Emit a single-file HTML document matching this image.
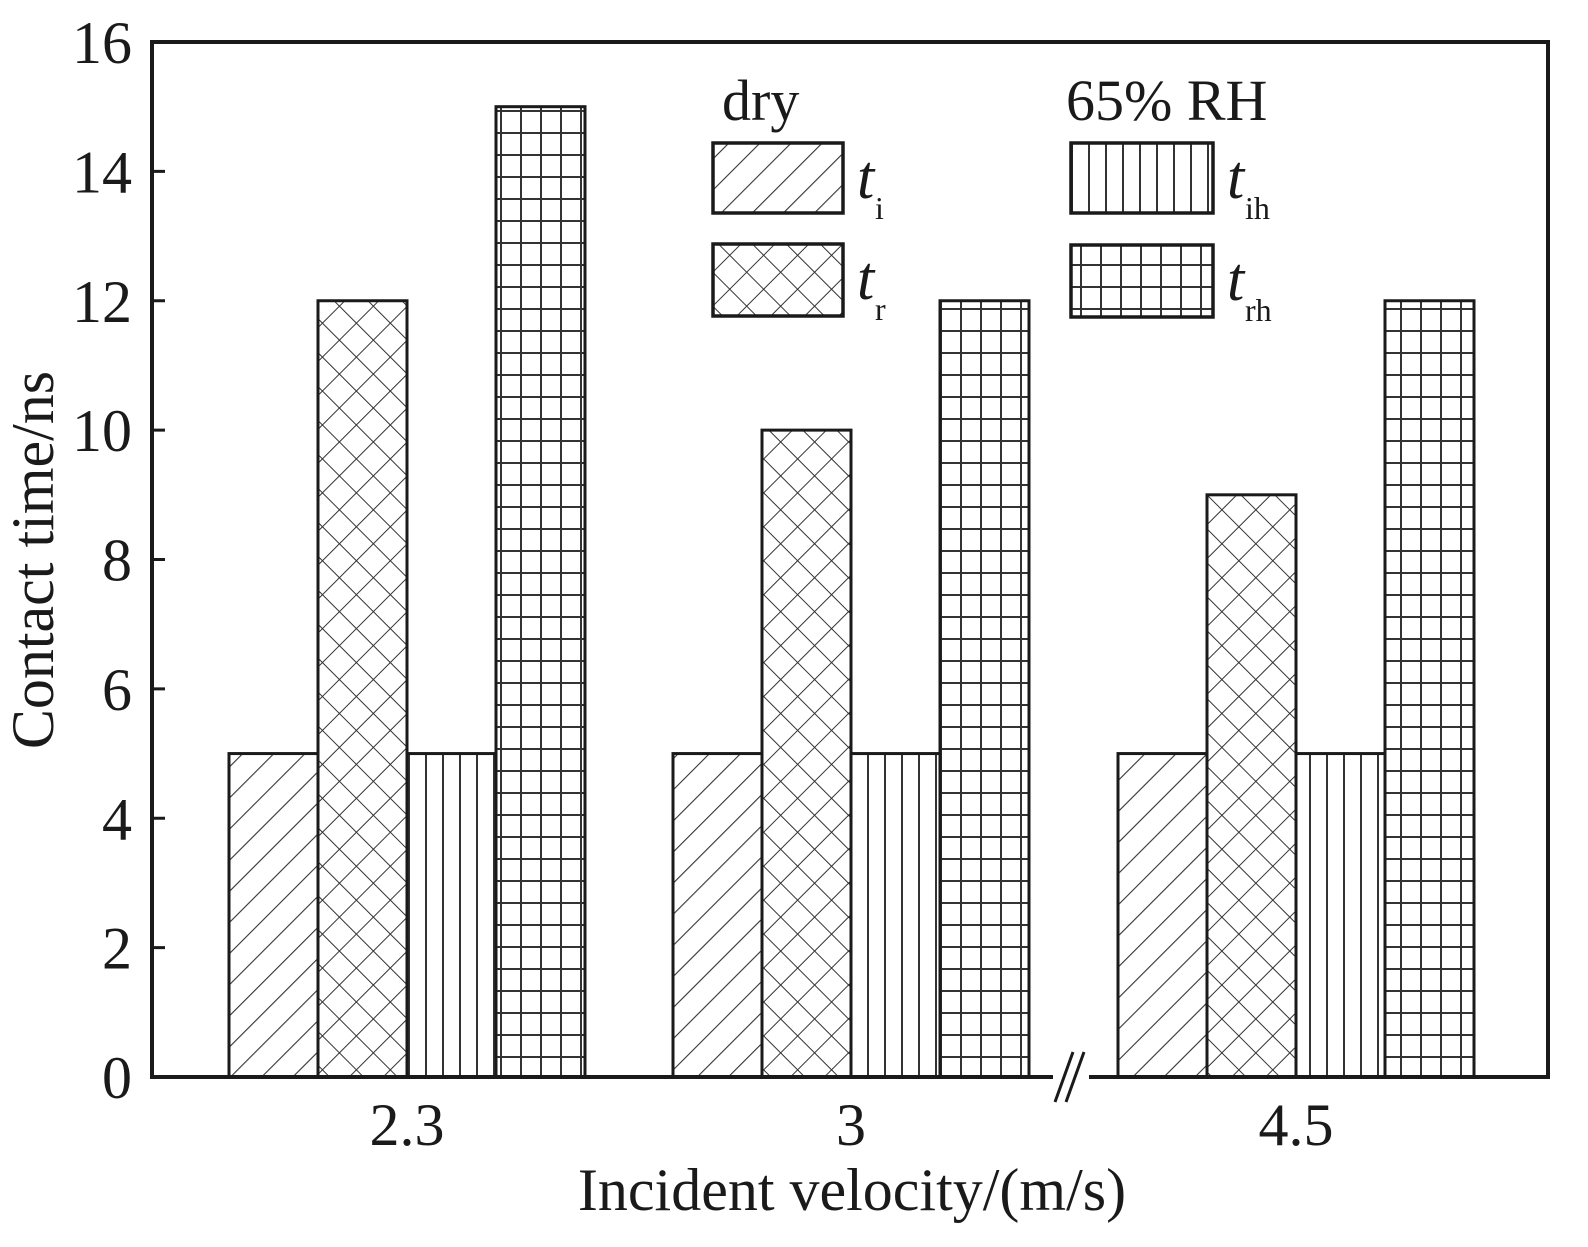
<!DOCTYPE html>
<html><head><meta charset="utf-8"><style>
body{margin:0;background:#fff}
text{font-family:"Liberation Serif",serif;fill:#1a1a1a}
</style></head><body>
<svg id="chart" width="1588" height="1242" viewBox="0 0 1588 1242" xmlns="http://www.w3.org/2000/svg">
<defs>
<pattern id="pDiag" patternUnits="userSpaceOnUse" width="22" height="22" patternTransform="rotate(45)"><line x1="0" y1="0" x2="0" y2="22" stroke="#333" stroke-width="2.2"/></pattern>
<pattern id="pCross" patternUnits="userSpaceOnUse" width="24" height="24" patternTransform="rotate(45)"><line x1="0" y1="0" x2="0" y2="24" stroke="#333" stroke-width="2"/><line x1="0" y1="0" x2="24" y2="0" stroke="#333" stroke-width="2"/></pattern>
<pattern id="pVert" patternUnits="userSpaceOnUse" width="17" height="17"><line x1="1" y1="0" x2="1" y2="17" stroke="#333" stroke-width="2"/></pattern>
<pattern id="pGrid" patternUnits="userSpaceOnUse" width="20" height="22"><line x1="1" y1="0" x2="1" y2="22" stroke="#333" stroke-width="2"/><line x1="0" y1="1" x2="20" y2="1" stroke="#333" stroke-width="2"/></pattern>
</defs>
<g id="plot"></g>
</svg>
<script>
const categories=["2.3","3","4.5"];
const seriesNames=["t_i","t_r","t_ih","t_rh"];
const tI=[5,5,5];
const tR=[12,10,9];
const tIH=[5,5,5];
const tRH=[15,12,12];
const yTicks=[0,2,4,6,8,10,12,14,16];

const NS="http://www.w3.org/2000/svg";
const g=document.getElementById('plot');
const L=152,R=1548,T=42,B=1077;
const yMax=16;
function y(v){return B-(v/yMax)*(B-T);}
const groupCenter=[407,851,1296];
function xc(i){return groupCenter[i];}
const barW=89;
function mk(tag,attrs){const e=document.createElementNS(NS,tag);for(const k in attrs)e.setAttribute(k,attrs[k]);g.appendChild(e);return e;}

const series=[tI,tR,tIH,tRH];
const fills=["url(#pDiag)","url(#pCross)","url(#pVert)","url(#pGrid)"];
const names=["bar-t-i","bar-t-r","bar-t-ih","bar-t-rh"];
categories.forEach((c,i)=>{
  series.forEach((s,j)=>{
    const x0=xc(i)-2*barW+j*barW;
    const r=mk('rect',{x:x0,y:y(s[i]),width:barW,height:B-y(s[i]),fill:'#fff'});
    
    
    const b=mk('rect',{x:x0,y:y(s[i]),width:barW,height:B-y(s[i]),fill:fills[j],stroke:'#1a1a1a','stroke-width':3});
    
    
  });
  const t=mk('text',{x:xc(i),y:1145,'font-size':60,'text-anchor':'middle'});
  t.textContent=c;
  
  
});
const fr=mk('rect',{x:L,y:T,width:R-L,height:B-T,fill:'none',stroke:'#1a1a1a','stroke-width':4});


yTicks.forEach(v=>{
  const l=mk('line',{x1:L,x2:L+13,y1:y(v),y2:y(v),stroke:'#1a1a1a','stroke-width':3});
  
  
  const t=mk('text',{x:132,y:y(v)+21,'font-size':60,'text-anchor':'end'});
  t.textContent=v;
  
  
});
const br=mk('rect',{x:1053,y:1060,width:36,height:40,fill:'#fff'});


[[1055,1102,1073,1052],[1066,1102,1084,1052]].forEach(p=>{
  const l=mk('line',{x1:p[0],y1:p[1],x2:p[2],y2:p[3],stroke:'#1a1a1a','stroke-width':3});
  
  
});
const xt=mk('text',{x:852,y:1210,'font-size':60,'text-anchor':'middle'});
xt.textContent='Incident velocity/(m/s)';


const yt=mk('text',{x:0,y:0,'font-size':60,'text-anchor':'middle',transform:'translate(53,560) rotate(-90)'});
yt.textContent='Contact time/ns';


const h1=mk('text',{x:722,y:120,'font-size':58});h1.textContent='dry';


const h2=mk('text',{x:1066,y:120,'font-size':58});h2.textContent='65% RH';


const leg=[[713,143,130,70,0,'i'],[713,244,130,72,1,'r'],[1071,143,142,70,2,'ih'],[1071,245,142,72,3,'rh']];
leg.forEach(d=>{
  const r=mk('rect',{x:d[0],y:d[1],width:d[2],height:d[3],fill:fills[d[4]],stroke:'#1a1a1a','stroke-width':3.5});
  
  
  const t=mk('text',{x:d[0]+d[2]+14,y:d[1]+55,'font-size':62,'font-style':'italic'});
  t.textContent='t';
  
  
  const s=mk('text',{x:d[0]+d[2]+32,y:d[1]+76,'font-size':32});
  s.textContent=d[5];
  
  
});
</script>
</body></html>
